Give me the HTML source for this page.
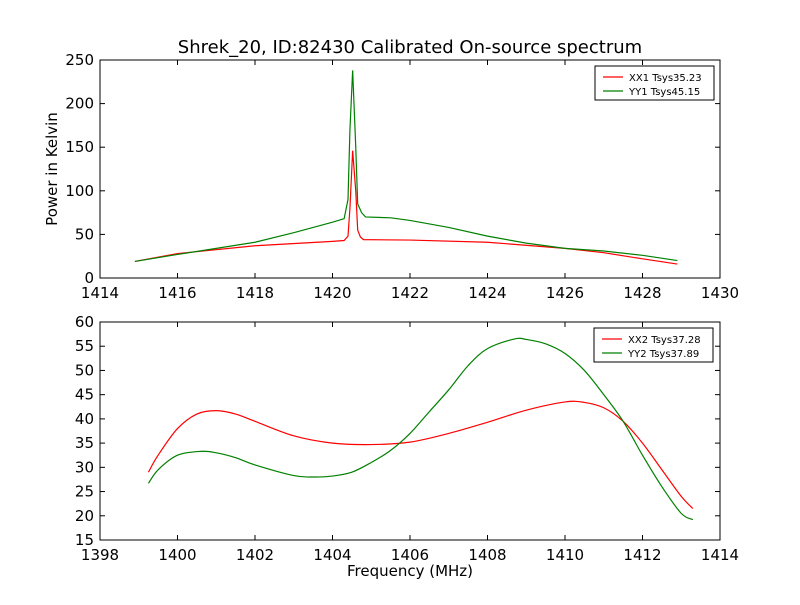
<!DOCTYPE html>
<html><head><meta charset="utf-8"><style>
body{margin:0;background:#fff;}
svg text{font-family:"DejaVu Sans","Liberation Sans",sans-serif;}
</style></head><body>
<svg id="chart" width="800" height="600" viewBox="0 0 800 600" xmlns="http://www.w3.org/2000/svg">
<rect width="800" height="600" fill="#fff"/>
<text x="410" y="53" font-size="18" text-anchor="middle">Shrek_20, ID:82430 Calibrated On-source spectrum</text>
<g id="topPanel"></g><g id="botPanel"></g>
</svg>
<script>
const topFreqXX=[1414.9,1416,1418,1420,1420.3,1420.4,1420.45,1420.52,1420.6,1420.65,1420.72,1420.8,1422,1424,1426,1427,1428,1428.9];
const topValXX=[19,28,37,42,43,48,80,146,100,55,47,44,43.5,41,34,29,22,16];
const topFreqYY=[1414.9,1416,1417,1418,1419,1420,1420.3,1420.4,1420.45,1420.52,1420.6,1420.65,1420.75,1420.85,1421.5,1422,1423,1424,1425,1426,1427,1428,1428.9];
const topValYY=[19,27,34,41,52,64,68,90,170,238,150,85,75,70,69,66,58,48,40,34,31,26,20];
const botFreqXX=[1399.25,1399.5,1400,1400.5,1401,1401.5,1402,1403,1404,1405,1406,1407,1408,1409,1410,1410.5,1411,1411.5,1412,1412.5,1413,1413.3];
const botValXX=[29,32.5,38,41,41.7,41,39.5,36.5,35,34.7,35.2,37,39.3,41.8,43.5,43.4,42.3,39.5,35,29.5,24,21.5];
const botFreqYY=[1399.25,1399.5,1400,1400.6,1401,1401.5,1402,1403,1403.5,1404,1404.5,1405,1405.5,1406,1406.5,1407,1407.5,1408,1408.7,1409,1409.5,1410,1410.5,1411,1411.5,1412,1412.5,1413,1413.3];
const botValYY=[26.7,29.5,32.5,33.3,33,32,30.5,28.3,28,28.2,29,31,33.5,37,41.5,46,51,54.5,56.5,56.4,55.5,53.5,50,45,39.5,32.5,26,20.5,19.2];
const topXTicks=[1414,1416,1418,1420,1422,1424,1426,1428,1430];
const topYTicks=[0,50,100,150,200,250];
const botXTicks=[1398,1400,1402,1404,1406,1408,1410,1412,1414];
const botYTicks=[15,20,25,30,35,40,45,50,55,60];
const NS="http://www.w3.org/2000/svg";
function mk(p,t,a){const e=document.createElementNS(NS,t);for(const k in a)e.setAttribute(k,a[k]);p.appendChild(e);return e;}
function pathD(pts,smooth){
  if(!smooth) return pts.map((p,i)=>(i?'L':'M')+p[0].toFixed(2)+','+p[1].toFixed(2)).join('');
  let d='M'+pts[0][0].toFixed(2)+','+pts[0][1].toFixed(2);
  for(let i=0;i<pts.length-1;i++){
    const p0=pts[Math.max(0,i-1)],p1=pts[i],p2=pts[i+1],p3=pts[Math.min(pts.length-1,i+2)];
    const c1=[p1[0]+(p2[0]-p0[0])/6,p1[1]+(p2[1]-p0[1])/6],c2=[p2[0]-(p3[0]-p1[0])/6,p2[1]-(p3[1]-p1[1])/6];
    d+='C'+c1.map(v=>v.toFixed(2))+' '+c2.map(v=>v.toFixed(2))+' '+p2.map(v=>v.toFixed(2));
  }
  return d;
}
function panel(g,x0,y0,w,h,xmin,xmax,ymin,ymax,xt,yt,series,legend,name,smooth){
  const X=v=>x0+(v-xmin)/(xmax-xmin)*w, Y=v=>y0+h-(v-ymin)/(ymax-ymin)*h;
  series.forEach(s=>{
    const pts=s.f.map((f,i)=>[X(f),Y(s.v[i])]);
    const p=mk(g,'path',{d:pathD(pts,smooth),fill:'none',stroke:s.c,'stroke-width':1.2});
    
    
  });
  const fr=mk(g,'rect',{x:x0,y:y0,width:w,height:h,fill:'none',stroke:'#000','stroke-width':1});
  
  
  xt.forEach(t=>{const x=X(t);mk(g,'line',{x1:x,x2:x,y1:y0+h,y2:y0+h-5,stroke:'#000'});mk(g,'line',{x1:x,x2:x,y1:y0,y2:y0+5,stroke:'#000'});
    const tx=mk(g,'text',{x:x,y:y0+h+20,'font-size':15,'text-anchor':'middle'});tx.textContent=t;
    
    });
  yt.forEach(t=>{const y=Y(t);mk(g,'line',{x1:x0,x2:x0+5,y1:y,y2:y,stroke:'#000'});mk(g,'line',{x1:x0+w,x2:x0+w-5,y1:y,y2:y,stroke:'#000'});
    const tx=mk(g,'text',{x:x0-6,y:y+5,'font-size':15,'text-anchor':'end'});tx.textContent=t;
    
    });
  const lg=mk(g,'g',{});
  
  
  mk(lg,'rect',{x:legend.x,y:legend.y,width:119,height:34,fill:'#fff',stroke:'#000'});
  legend.items.forEach((it,i)=>{const yy=legend.y+11+i*14;
    mk(lg,'line',{x1:legend.x+8,x2:legend.x+28,y1:yy,y2:yy,stroke:it.c,'stroke-width':1.2});
    const tx=mk(lg,'text',{x:legend.x+34,y:yy+4,'font-size':10});tx.textContent=it.t;
    
    });
}
const topG=document.getElementById('topPanel'),botG=document.getElementById('botPanel');
panel(topG,100,60,620,218,1414,1430,0,250,topXTicks,topYTicks,
 [{f:topFreqXX,v:topValXX,c:'#ff0000',n:'xx1-line'},{f:topFreqYY,v:topValYY,c:'#008000',n:'yy1-line'}],
 {x:595,y:66,items:[{c:'#ff0000',t:'XX1 Tsys35.23'},{c:'#008000',t:'YY1 Tsys45.15'}]},'top-panel',false);
panel(botG,100,322,620,218,1398,1414,15,60,botXTicks,botYTicks,
 [{f:botFreqXX,v:botValXX,c:'#ff0000',n:'xx2-line'},{f:botFreqYY,v:botValYY,c:'#008000',n:'yy2-line'}],
 {x:594,y:328,items:[{c:'#ff0000',t:'XX2 Tsys37.28'},{c:'#008000',t:'YY2 Tsys37.89'}]},'bottom-panel',true);
const svgEl=document.getElementById('chart');
const yl=mk(svgEl,'text',{x:57,y:169,'font-size':15,'text-anchor':'middle',transform:'rotate(-90 57 169)'});yl.textContent='Power in Kelvin';


const xl=mk(svgEl,'text',{x:410,y:576,'font-size':15,'text-anchor':'middle'});xl.textContent='Frequency (MHz)';


</script>
</body></html>
